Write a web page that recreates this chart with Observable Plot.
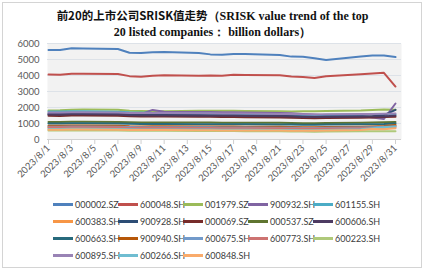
<!DOCTYPE html>
<html>
<head>
<meta charset="utf-8">
<script src="https://cdn.jsdelivr.net/npm/d3@7"></script>
<script src="https://cdn.jsdelivr.net/npm/@observablehq/plot@0.6"></script>
<style>
  html, body { margin: 0; padding: 0; background: #fff; }
  #wrap { position: relative; width: 425px; height: 273px; overflow: hidden; font-family: Lato, "Liberation Sans", sans-serif; }
  #border { position: absolute; left: 2px; top: 2px; width: 418px; height: 264px; border: 1.5px solid #d4d4d4; }
  #title { position: absolute; left: 0; top: 7px; width: 425px; text-align: center; font-weight: bold; font-size: 12px; line-height: 16px; color: #111; font-family: "Liberation Serif", "Times New Roman", serif; }
  #title .cn { font-family: "Noto Sans CJK SC", sans-serif; font-weight: bold; font-size: 11.5px; }
  #chart { position: absolute; left: 0; top: 0; }
  #chart svg [aria-label^="x-axis"] line, #chart svg [aria-label^="x-axis"] path { stroke: #cfcfcf; }
  #legend { position: absolute; left: 53px; top: 196px; width: 330px; display: grid; grid-template-columns: repeat(5, 65px); grid-auto-rows: 17px; font-size: 9px; color: #404040; }
  .item { display: flex; align-items: center; white-space: nowrap; }
  .sw { width: 20px; height: 2.2px; margin-right: 2px; flex: none; }
</style>
</head>
<body>
<div id="wrap">
  <div id="border"></div>
  <div id="chart"></div>
  <div id="title"><span class="cn">前20的上市公司SRISK值走势</span>（SRISK value trend of the top<br>20 listed companies： billion dollars）</div>
  <div id="legend"></div>
</div>
<script>
// Trading days, August 2023
const dates = ["2023-08-01","2023-08-02","2023-08-03","2023-08-04","2023-08-07","2023-08-08","2023-08-09","2023-08-10","2023-08-11","2023-08-14","2023-08-15","2023-08-16","2023-08-17","2023-08-18","2023-08-21","2023-08-22","2023-08-23","2023-08-24","2023-08-25","2023-08-28","2023-08-29","2023-08-30","2023-08-31"];
const tickDates = ["2023-08-01","2023-08-03","2023-08-05","2023-08-07","2023-08-09","2023-08-11","2023-08-13","2023-08-15","2023-08-17","2023-08-19","2023-08-21","2023-08-23","2023-08-25","2023-08-27","2023-08-29","2023-08-31"];
const yTicks = [0, 1000, 2000, 3000, 4000, 5000, 6000];

const codes = ["000002.SZ","600048.SH","001979.SZ","900932.SH","601155.SH","600383.SH","900928.SH","000069.SZ","000537.SZ","600606.SH","600663.SH","900940.SH","600675.SH","600773.SH","600223.SH","600895.SH","600266.SH","600848.SH"];
const colors = ["#4F81BD","#C0504D","#9BBB59","#8064A2","#4BACC6","#F79646","#2C4D75","#772C2A","#5F7530","#4D3B62","#276A7C","#B65708","#729ACA","#CD7371","#AFC97A","#9983B5","#6FBDD1","#F9AB6B"];

const v000002_SZ = [5600,5600,5700,5690,5660,5420,5400,5460,5470,5400,5320,5300,5350,5340,5280,5180,5170,5080,4970,5190,5250,5250,5150];
const v600048_SH = [4060,4050,4110,4110,4100,3960,3920,3980,4020,3990,4000,3980,4040,4030,4020,3940,3900,3840,3950,4080,4120,4170,3310];
const v001979_SZ = [1820,1830,1860,1870,1860,1800,1780,1760,1770,1790,1800,1800,1790,1780,1760,1750,1760,1760,1780,1820,1850,1880,1860];
const v900932_SH = [1620,1620,1640,1640,1630,1600,1600,1850,1740,1720,1720,1700,1700,1690,1660,1640,1600,1560,1520,1480,1380,1280,2250];
const v601155_SH = [1750,1750,1760,1760,1740,1700,1680,1650,1640,1620,1620,1600,1600,1590,1560,1540,1520,1520,1540,1560,1580,1600,1560];
const v600383_SH = [720,720,730,730,720,700,690,690,690,680,680,670,680,670,660,650,640,640,650,700,760,820,880];
const v900928_SH = [1580,1580,1600,1610,1600,1560,1540,1540,1540,1530,1520,1510,1510,1500,1480,1460,1440,1420,1430,1440,1460,1520,1850];
const v000069_SZ = [1480,1470,1500,1500,1490,1450,1430,1430,1430,1420,1420,1400,1400,1390,1370,1360,1340,1330,1340,1360,1380,1400,1420];
const v000537_SZ = [1100,1100,1110,1110,1100,1080,1070,1070,1060,1060,1060,1050,1050,1050,1040,1030,1020,1020,1030,1050,1070,1080,1090];
const v600606_SH = [1560,1550,1580,1580,1560,1520,1500,1500,1500,1490,1490,1480,1480,1470,1450,1430,1410,1400,1410,1420,1430,1440,1500];
const v600663_SH = [1000,1000,1010,1010,1000,980,970,970,970,960,960,950,950,950,940,930,920,920,930,950,960,970,1000];
const v900940_SH = [860,860,870,870,860,830,820,830,830,820,820,810,810,800,790,780,770,770,780,800,820,850,900];
const v600675_SH = [800,800,810,810,800,780,770,770,770,760,760,750,750,750,740,730,720,720,730,750,770,790,820];
const v600773_SH = [760,760,770,770,760,740,730,730,730,720,720,710,710,710,700,690,680,680,690,710,720,740,760];
const v600223_SH = [560,560,570,570,560,550,540,540,540,530,530,530,530,520,510,500,500,490,500,510,520,520,510];
const v600895_SH = [1680,1680,1700,1700,1690,1660,1650,1650,1650,1640,1640,1630,1630,1620,1600,1590,1580,1570,1580,1590,1600,1610,1620];
const v600266_SH = [660,660,670,670,660,640,630,630,630,620,620,610,610,610,600,590,580,580,600,640,700,760,820];
const v600848_SH = [610,610,620,620,610,600,590,590,590,580,580,570,570,570,560,550,540,540,560,600,650,640,700];

const seriesValues = [v000002_SZ,v600048_SH,v001979_SZ,v900932_SH,v601155_SH,v600383_SH,v900928_SH,v000069_SZ,v000537_SZ,v600606_SH,v600663_SH,v900940_SH,v600675_SH,v600773_SH,v600223_SH,v600895_SH,v600266_SH,v600848_SH];

const parse = d3.utcParse("%Y-%m-%d");
const rows = codes.flatMap((code, i) => seriesValues[i].map((v, j) => ({code, date: parse(dates[j]), value: v})));

const chart = Plot.plot({
  width: 425,
  height: 185,
  marginTop: 43,
  marginBottom: 46,
  marginLeft: 48,
  marginRight: 30,
  style: {fontFamily: "Lato, 'Liberation Sans', sans-serif", fontSize: "9.5px", color: "#595959", background: "transparent"},
  x: {
    type: "utc",
    domain: [parse(tickDates[0]), parse(tickDates[tickDates.length - 1])],
    ticks: tickDates.map(parse),
    tickFormat: d => `2023/8/${d.getUTCDate()}`,
    tickRotate: -45,
    tickSize: 5,
    tickPadding: 2,
    label: null
  },
  y: {
    domain: [0, 6000],
    ticks: yTicks,
    tickSize: 0,
    tickPadding: 9,
    tickFormat: d => String(d),
    label: null
  },
  color: {domain: codes, range: colors},
  marks: [
    Plot.frame({fill: "#f2f2f2", stroke: "none", insetLeft: -1, insetRight: -6}),
    Plot.ruleY(yTicks.slice(1), {stroke: "#dde2e8", strokeWidth: 1, insetLeft: -1, insetRight: -6}),
    Plot.ruleY([0], {stroke: "#d0d0d0", strokeWidth: 1, insetLeft: -1, insetRight: -6}),
    Plot.line(rows, {x: "date", y: "value", z: "code", stroke: "code", strokeWidth: 2, curve: "linear"})
  ]
});
document.getElementById("chart").appendChild(chart);

const legend = document.getElementById("legend");
codes.forEach((c, i) => {
  const item = document.createElement("div");
  item.className = "item";
  const sw = document.createElement("span");
  sw.className = "sw";
  sw.style.background = colors[i];
  const t = document.createElement("span");
  t.textContent = c;
  item.appendChild(sw);
  item.appendChild(t);
  legend.appendChild(item);
});
</script>
</body>
</html>
